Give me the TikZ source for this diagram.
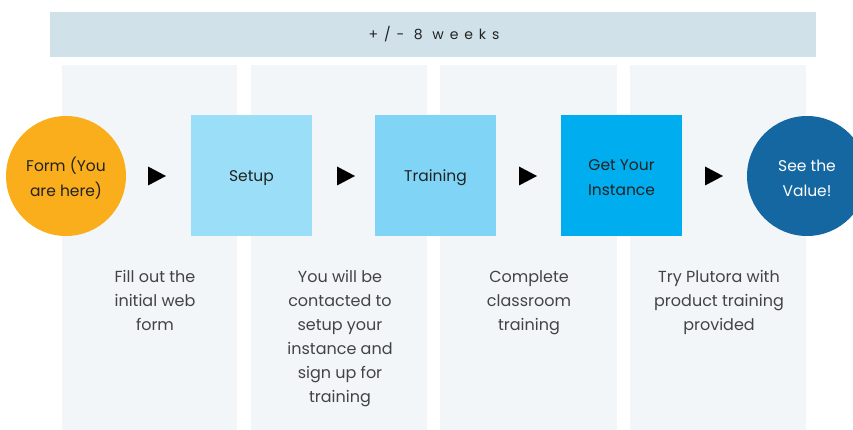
\documentclass[tikz,border=0pt]{standalone}
\usepackage{fontspec}
\setmainfont{Poppins}
\definecolor{barcol}{HTML}{D0E1EA}
\definecolor{colbg}{HTML}{F2F6F9}
\definecolor{orangec}{HTML}{FAAE1B}
\definecolor{setupc}{HTML}{9ADFF7}
\definecolor{trainc}{HTML}{80D5F7}
\definecolor{instc}{HTML}{00AEEF}
\definecolor{valuec}{HTML}{1467A0}
\definecolor{txt}{HTML}{222222}
\begin{document}
\begin{tikzpicture}[x=1pt,y=-1pt,
  stepcircle/.style={circle,minimum size=120pt,inner sep=0pt},
  stepbox/.style={rectangle,minimum width=121pt,minimum height=121pt,inner sep=0pt},
  steptext/.style={align=center,inner sep=0pt,font=\fontsize{15.5}{25}\selectfont,text=txt},
  desc/.style={anchor=north,align=center,font=\fontsize{16}{24}\selectfont,text=txt!85},
  colpanel/.style={fill=colbg},
  tri/.style={fill=black}]
\useasboundingbox (0,0) rectangle (853,430);
\clip (0,0) rectangle (853,430);
\fill[white] (0,0) rectangle (853,430);
% top bar
\fill[barcol] (50,12) rectangle (816,57);
\node[font=\fontsize{14}{15}\selectfont\addfontfeature{LetterSpace=42},text=txt] (weeks) at (434,34) {+/- 8 weeks};
% column panels
\fill[colpanel] (62,65) rectangle (237,430);
\fill[colpanel] (251,65) rectangle (427,430);
\fill[colpanel] (440,65) rectangle (617,430);
\fill[colpanel] (630,65) rectangle (806,430);
% steps
\node[stepcircle,fill=orangec] (form) at (66,176) {};
\node[stepbox,fill=setupc] (setup) at (251.5,175.5) {};
\node[stepbox,fill=trainc] (train) at (435.5,175.5) {};
\node[stepbox,fill=instc] (inst) at (621.5,175.5) {};
\node[stepcircle,fill=valuec] (value) at (807,176) {};
\node[steptext] (formt) at ([yshift=-2pt]form.center) {Form (You\\are here)};
\node[steptext] (setupt) at ([yshift=-2.5pt]setup.center) {Setup};
\node[steptext] (traint) at ([yshift=-2.5pt]train.center) {Training};
\node[steptext] (instt) at ([yshift=-2pt]inst.center) {Get Your\\Instance};
\node[steptext,text=white] (valuet) at ([yshift=-2pt]value.center) {See the\\Value!};
% arrow triangles
\foreach \x [count=\i] in {148,337,519,705}{
  \coordinate (a\i) at (\x,166.5);
  \fill[tri] (a\i) -- ++(18,9.5) -- ++(-18,9.5) -- cycle;
}
% descriptions
\node[desc] (d1) at (155,267) {Fill out the\\initial web\\form};
\node[desc] (d2) at (340,267) {You will be\\contacted to\\setup your\\instance and\\sign up for\\training};
\node[desc] (d3) at (529,267) {Complete\\classroom\\training};
\node[desc] (d4) at (719,267) {Try Plutora with\\product training\\provided};
\end{tikzpicture}
\end{document}
